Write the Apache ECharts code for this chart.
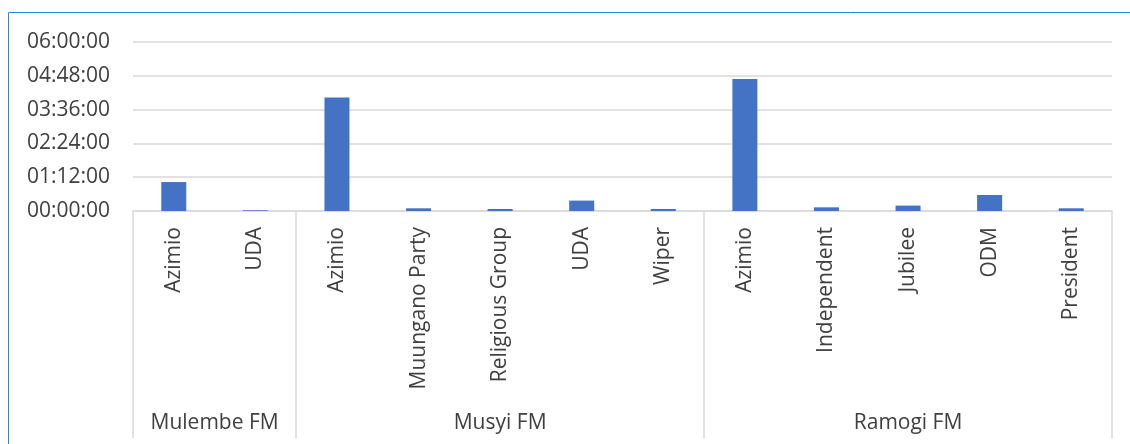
<!DOCTYPE html>
<html>
<head>
<meta charset="utf-8">
<script src="https://cdn.jsdelivr.net/npm/echarts@6/dist/echarts.min.js"></script>
<style>
  html, body { margin: 0; padding: 0; background: #fff; }
  #chart { width: 1130px; height: 444px; }
</style>
</head>
<body>
<div id="chart"></div>
<script>
// stations (outer level) and how many parties sit under each
const stations = ['Mulembe FM', 'Musyi FM', 'Ramogi FM'];
const stationSizes = [2, 5, 5];
// parties (inner level)
const parties = ['Azimio', 'UDA',
  'Azimio', 'Muungano Party', 'Religious Group', 'UDA', 'Wiper',
  'Azimio', 'Independent', 'Jubilee', 'ODM', 'President'];
// airtime in seconds
const airtime = [3700, 90,
  14500, 345, 260, 1330, 260,
  16870, 470, 690, 2045, 345];
// y ticks: every 01:12:00 up to 06:00:00
const yMax = 21600;
const yStep = 4320;

const fmt = (s) => {
  const h = Math.floor(s / 3600), m = Math.floor((s % 3600) / 60), sec = Math.round(s % 60);
  return [h, m, sec].map(v => String(v).padStart(2, '0')).join(':');
};

// group boundaries and centres on a 0..N value scale
const bounds = [0];
stationSizes.forEach(n => bounds.push(bounds[bounds.length - 1] + n));
const mids = stationSizes.map((n, i) => bounds[i] + n / 2);

const txt = '#404040';
const gridCol = '#d9d9d9';
const font = '"Open Sans", sans-serif';

const chart = echarts.init(document.getElementById('chart'));
chart.setOption({
  animation: false,
  graphic: [{
    type: 'rect',
    shape: { x: 8.5, y: 12.5, width: 1300, height: 600 },
    style: { fill: 'none', stroke: '#2B88D8', lineWidth: 1 },
    silent: true
  }],
  grid: { left: 133, right: 18, top: 42, bottom: 233 },
  xAxis: [{
    type: 'category',
    data: parties,
    position: 'bottom',
    axisLine: { lineStyle: { color: gridCol, width: 1.5 } },
    axisTick: { show: false },
    axisLabel: {
      rotate: 90, margin: 16, interval: 0,
      color: txt, fontSize: 21, fontFamily: font
    }
  }, {
    type: 'value',
    position: 'bottom',
    offset: 0,
    min: 0, max: bounds[bounds.length - 1],
    axisLine: { show: false },
    splitLine: { show: false },
    axisTick: {
      show: true, customValues: bounds, length: 227,
      lineStyle: { color: gridCol, width: 1.5 }
    },
    axisLabel: {
      customValues: mids, margin: 202,
      color: txt, fontSize: 21, fontFamily: font,
      formatter: (v) => stations[mids.indexOf(v)] || ''
    }
  }],
  yAxis: {
    type: 'value',
    min: 0, max: yMax, interval: yStep,
    axisLine: { show: false },
    axisTick: { show: false },
    splitLine: { lineStyle: { color: gridCol, width: 1.5 } },
    axisLabel: {
      margin: 23, color: txt, fontSize: 21, fontFamily: font,
      formatter: fmt
    }
  },
  series: [{
    type: 'bar',
    xAxisIndex: 0,
    data: airtime,
    barWidth: 25,
    itemStyle: { color: '#4472C4' }
  }]
});
</script>
</body>
</html>
